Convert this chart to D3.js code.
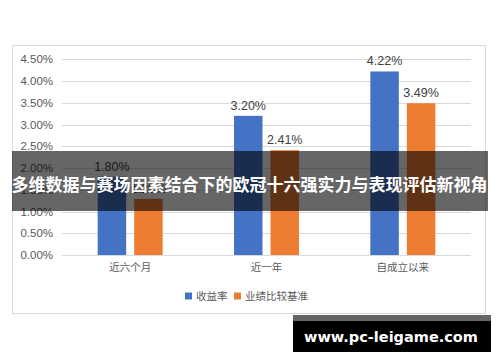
<!DOCTYPE html>
<html><head><meta charset="utf-8">
<script src="https://cdn.jsdelivr.net/npm/d3@7"></script>
<style>html,body{margin:0;padding:0;background:#fff;}svg{display:block;}</style>
</head><body>
<svg id="c" width="500" height="362"></svg>
<script>
const categories = ["近六个月", "近一年", "自成立以来"];
const seriesNames = ["收益率", "业绩比较基准"];
const returnValues = [1.80, 3.20, 4.22];
const benchmarkValues = [1.29, 2.41, 3.49];
const yTicks = [0, 0.5, 1.0, 1.5, 2.0, 2.5, 3.0, 3.5, 4.0, 4.5];
const colors = ["#4472C4", "#ED7D31"];
const bannerText = "多维数据与赛场因素结合下的欧冠十六强实力与表现评估新视角";
const watermark = "www.pc-leigame.com";

const svg = d3.select("#c");
const numFont = "'Liberation Sans', Arial, sans-serif";
const cjkFont = "'Noto Sans CJK SC', sans-serif";

// frame
svg.append("rect").attr("x", 12.5).attr("y", 45.5).attr("width", 473).attr("height", 268)
  .attr("fill", "#fff").attr("stroke", "#d9d9d9").attr("stroke-width", 1);

const x0 = d3.scaleBand().domain(categories).range([62, 471]).padding(0);
const x1 = d3.scaleBand().domain(seriesNames).range([-32.5, 32.5]).paddingInner(0.22);
const y = d3.scaleLinear().domain([0, 4.5]).range([255, 59.3]);

// grid
svg.append("g").selectAll("line").data(yTicks).join("line")
  .attr("x1", 62).attr("x2", 471)
  .attr("y1", d => Math.round(y(d)) + 0.5).attr("y2", d => Math.round(y(d)) + 0.5)
  .attr("stroke", "#d9d9d9").attr("stroke-width", 1);

// y axis labels
const yAxis = d3.axisLeft(y).tickValues(yTicks).tickFormat(d => d.toFixed(2) + "%").tickSize(0).tickPadding(0);
const gy = svg.append("g").attr("transform", "translate(53,0)").call(yAxis);
gy.select(".domain").remove();
gy.selectAll("text").attr("font-family", numFont).attr("font-size", 11.5).attr("fill", "#595959");

// bars
const rows = categories.map((c, i) => ({cat: c, vals: [returnValues[i], benchmarkValues[i]]}));
const g = svg.append("g").selectAll("g").data(rows).join("g")
  .attr("transform", d => `translate(${x0(d.cat) + x0.bandwidth() / 2},0)`);
g.selectAll("rect").data(d => d.vals.map((v, j) => ({s: seriesNames[j], v, j}))).join("rect")
  .attr("x", d => x1(d.s)).attr("width", x1.bandwidth())
  .attr("y", d => y(d.v)).attr("height", d => y(0) - y(d.v))
  .attr("fill", d => colors[d.j]);
g.selectAll("text").data(d => d.vals.map((v, j) => ({s: seriesNames[j], v, j}))).join("text")
  .attr("x", d => x1(d.s) + x1.bandwidth() / 2).attr("y", d => y(d.v) - 6)
  .attr("text-anchor", "middle").attr("font-family", numFont).attr("font-size", 12.5)
  .attr("fill", "#404040").text(d => d.v.toFixed(2) + "%");

// x axis labels
const xAxis = d3.axisBottom(x0).tickSize(0).tickPadding(0);
const gx = svg.append("g").attr("transform", "translate(0,264)").call(xAxis);
gx.select(".domain").remove();
gx.selectAll("text").attr("font-family", cjkFont).attr("font-size", 10.5).attr("fill", "#595959");

// legend
const leg = svg.append("g").attr("transform", "translate(185,296)");
const legItems = [{n: seriesNames[0], x: 0}, {n: seriesNames[1], x: 49}];
legItems.forEach((it, i) => {
  leg.append("rect").attr("x", it.x).attr("y", -3.5).attr("width", 7).attr("height", 7).attr("fill", colors[i]);
  leg.append("text").attr("x", it.x + 11).attr("y", 0).attr("dy", "0.35em")
    .attr("font-family", cjkFont).attr("font-size", 10.5).attr("fill", "#595959").text(it.n);
});

// banner
svg.append("rect").attr("x", 12).attr("y", 151).attr("width", 476).attr("height", 60)
  .attr("fill", "rgba(0,0,0,0.6)");
svg.append("text").attr("x", 249.5).attr("y", 185).attr("dy", "0.35em").attr("text-anchor", "middle")
  .attr("font-family", cjkFont).attr("font-weight", "bold").attr("font-size", 17)
  .attr("fill", "#fff").text(bannerText);

// watermark
svg.append("rect").attr("x", 293).attr("y", 315).attr("width", 198).attr("height", 6).attr("fill", "#666");
svg.append("rect").attr("x", 293).attr("y", 321).attr("width", 198).attr("height", 31).attr("fill", "#000");
svg.append("text").attr("x", 391).attr("y", 337).attr("dy", "0.35em").attr("text-anchor", "middle")
  .attr("font-family", "'DejaVu Sans', sans-serif").attr("font-weight", "bold").attr("font-size", 14.5)
  .attr("fill", "#fff").text(watermark);
</script>
</body></html>
